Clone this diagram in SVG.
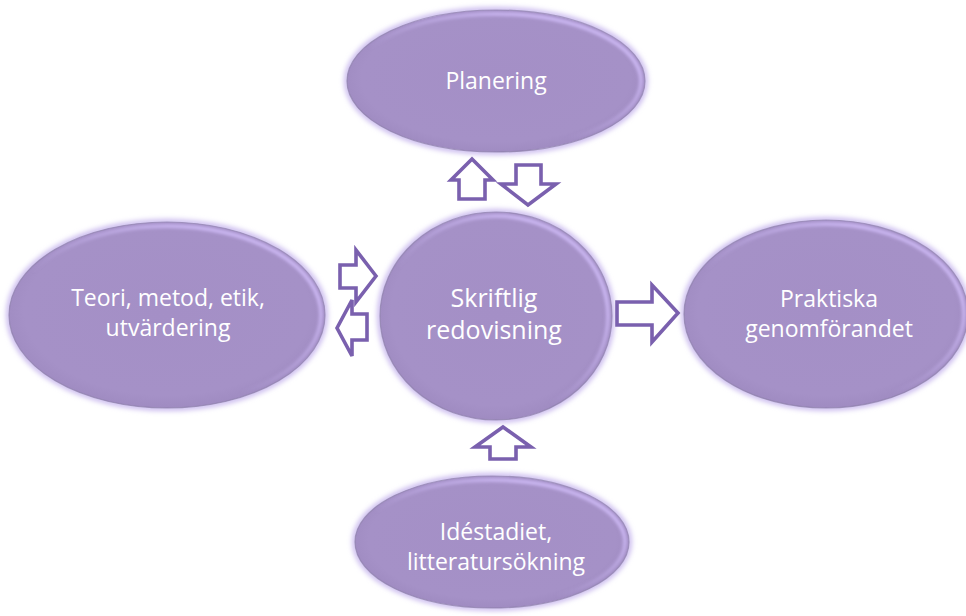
<svg xmlns="http://www.w3.org/2000/svg" width="966" height="616" viewBox="0 0 966 616">
<style>
.node-fill{fill:url(#g);stroke:#8c7fa8;stroke-width:1.2;stroke-opacity:.7}
.glow{fill:none;stroke:#cbbbef;stroke-width:6;filter:url(#blur)}
.hl{fill:none;stroke:url(#hlg);stroke-width:4;filter:url(#blur1)}
.lbl{font-family:"Open Sans","Liberation Sans",sans-serif;fill:#ffffff;text-anchor:middle;font-size:23px}
.big{font-size:25px}
.arr{fill:#ffffff;stroke:#7a60ae;stroke-width:3.6;stroke-linejoin:miter}
</style>
<defs>
<radialGradient id="g" cx="50%" cy="48%" r="55%">
<stop offset="0" stop-color="#a48fc6"/>
<stop offset="0.82" stop-color="#a591c7"/>
<stop offset="0.93" stop-color="#a08cc2"/>
<stop offset="1" stop-color="#9481b3"/>
</radialGradient>
<linearGradient id="hlg" x1="0" y1="1" x2="1" y2="0">
<stop offset="0.4" stop-color="#c7b3ee" stop-opacity="0"/>
<stop offset="0.8" stop-color="#c9b5f0" stop-opacity="1"/>
</linearGradient>
<filter id="blur" x="-20%" y="-20%" width="140%" height="140%"><feGaussianBlur stdDeviation="2.5"/></filter>
<filter id="blur1" x="-20%" y="-20%" width="140%" height="140%"><feGaussianBlur stdDeviation="1.5"/></filter>
</defs>
<rect width="966" height="616" fill="#ffffff"/>

<g id="planering">
<ellipse class="glow" cx="496" cy="81" rx="149" ry="71"/>
<ellipse class="node-fill" cx="496" cy="81" rx="149" ry="71"/>
<ellipse class="hl" cx="496" cy="81" rx="145" ry="67"/>
<text class="lbl" x="496" y="89">Planering</text>
</g>

<g id="teori">
<ellipse class="glow" cx="167" cy="315" rx="158" ry="93"/>
<ellipse class="node-fill" cx="167" cy="315" rx="158" ry="93"/>
<ellipse class="hl" cx="167" cy="315" rx="154" ry="89"/>
<text class="lbl" x="168" y="306">Teori, metod, etik,</text>
<text class="lbl" x="168" y="336">utvärdering</text>
</g>

<g id="skriftlig">
<ellipse class="glow" cx="496" cy="316" rx="116" ry="104"/>
<ellipse class="node-fill" cx="496" cy="316" rx="116" ry="104"/>
<ellipse class="hl" cx="496" cy="316" rx="112" ry="100"/>
<text class="lbl big" x="494" y="307">Skriftlig</text>
<text class="lbl big" x="494" y="339">redovisning</text>
</g>

<g id="praktiska">
<ellipse class="glow" cx="826" cy="314" rx="142" ry="94"/>
<ellipse class="node-fill" cx="826" cy="314" rx="142" ry="94"/>
<ellipse class="hl" cx="826" cy="314" rx="138" ry="90"/>
<text class="lbl" x="829" y="307">Praktiska</text>
<text class="lbl" x="829" y="337">genomförandet</text>
</g>

<g id="idestadiet">
<ellipse class="glow" cx="492" cy="542" rx="137" ry="66"/>
<ellipse class="node-fill" cx="492" cy="542" rx="137" ry="66"/>
<ellipse class="hl" cx="492" cy="542" rx="133" ry="62"/>
<text class="lbl" x="496" y="540">Idéstadiet,</text>
<text class="lbl" x="496" y="570">litteratursökning</text>
</g>

<g id="connectors">
<polygon class="arr" points="472,159 493,180 485,180 485,199 459,199 459,180 451,180"/>
<polygon class="arr" points="516,165 541,165 541,184 556,184 528,205 501,184 516,184"/>
<polygon class="arr" points="376,276 356,250 356,265 340,265 340,288 356,288 356,302"/>
<polygon class="arr" points="337,328 352,300 352,314 367,314 367,340 352,340 352,356"/>
<polygon class="arr" points="678,313 652,285 652,302 617,302 617,325 652,325 652,342"/>
<polygon class="arr" points="503,427 531,447 516,447 516,459 490,459 490,447 475,447"/>
</g>
</svg>
